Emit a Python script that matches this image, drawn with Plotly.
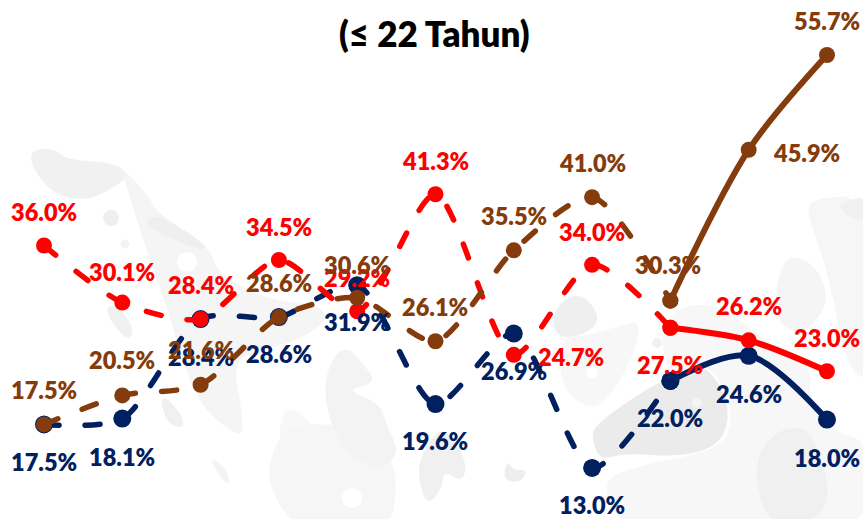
import plotly.graph_objects as go

categories = list(range(11))
red_values = [36.0, 30.1, 28.4, 34.5, 29.2, 41.3, 24.7, 34.0, 27.5, 26.2, 23.0]
brown_values = [17.5, 20.5, 21.6, 28.6, 30.6, 26.1, 35.5, 41.0, 30.3, 45.9, 55.7]
navy_values = [17.5, 18.1, 28.4, 28.6, 31.9, 19.6, 26.9, 13.0, 22.0, 24.6, 18.0]

RED, BROWN, NAVY = "#FF0000", "#843C0C", "#002060"
W, H = 863, 519
FONT = "Lato"
LABEL_SIZE = 23.5
SPLIT = 8

# label offsets (px, right / down) from each marker
red_offsets = [(0, -34), (0, -31), (0, -34), (0, -33), (0, -33), (0, -33), (57, 2), (0, -33), (0, 37), (0, -34), (0, -33)]
brown_offsets = [(0, -34), (0, -35), (0, -35), (0, -34), (0, -33), (0, -34), (0, -34), (0, -34), (-2, -36), (58, 3), (0, -34)]
navy_offsets = [(0, 38), (0, 38), (0, 38), (0, 37), (0, 37), (0, 37), (0, 37), (0, 37), (0, 37), (0, 38), (0, 38)]

# decorative map backdrop, in page pixels: (fill, outline points)
backdrop = [
    ("#f7f7f7", [(673,307),(720,303),(760,337),(793,353),(813,373),(807,393),(833,433),(870,440),(870,530),(770,530),(620,530),(600,480),(640,465),(720,450),(733,420),(725,385),(700,360),(670,375),(660,340)]),
    ("#f7f7f7", [(617,327),(640,320),(637,347),(617,387),(593,413),(560,387),(560,337),(580,337)]),
    ("#f5f5f5", [(777,277),(790,253),(817,267),(827,293),(823,313),(800,337),(775,320)]),
    ("#f6f6f6", [(807,213),(813,198),(870,195),(870,385),(847,367),(830,283),(817,240)]),
    ("#f0f0f0", [(837,203),(870,195),(870,223),(847,217)]),
    ("#f0f0f0", [(753,473),(767,437),(800,423),(820,447),(833,515),(770,530)]),
    ("#efefef", [(552,310),(580,290),(603,320),(580,337),(555,337)]),
    ("#ebebeb", [(592,427),(640,393),(670,377),(700,362),(723,387),(730,420),(717,447),(677,457),(627,453),(600,460),(593,443)]),
    ("#f5f5f5", [(117,163),(147,193),(157,213),(210,247),(217,273),(267,300),(320,305),(328,320),(300,340),(253,352),(233,363),(243,417),(242,440),(200,407),(180,353),(167,307),(143,240),(127,187)]),
    ("#efefef", [(143,223),(157,213),(210,247),(200,250),(167,237)]),
    ("#f1f1f1", [(28,155),(40,148),(57,150),(67,160),(117,163),(128,177),(110,190),(87,200),(60,197),(40,180)]),
    ("#f1f1f1", [(103,310),(117,303),(135,330),(127,342)]),
    ("#f0f0f0", [(160,400),(167,397),(183,417),(183,429),(167,423)]),
    ("#f3f3f3", [(210,457),(227,468),(230,487),(217,473)]),
    ("#f8f8f8", [(280,397),(323,433),(323,487),(280,480)]),
    ("#f6f6f6", [(267,470),(280,433),(313,422),(363,430),(393,460),(397,490),(390,530),(300,530),(275,500)]),
    ("#f3f3f3", [(323,377),(343,343),(363,363),(377,383),(345,390),(380,403),(387,427),(400,453),(380,470),(353,457),(330,427)]),
    ("#f0f0f0", [(420,457),(443,423),(467,460),(463,483),(443,470),(443,487),(427,507),(418,477)]),
    ("#eeeeee", [(507,460),(513,470),(528,470),(520,483),(503,480)]),
]
backdrop_dots = [
    ("#efefef", 111, 218, 8), ("#f3f3f3", 125, 244, 4.5), ("#ffffff", 187, 262, 10),
    ("#ffffff", 352, 498, 10), ("#ffffff", 847, 377, 9), ("#ffffff", 592, 373, 6),
    ("#f4f4f4", 697, 403, 5), ("#f1f1f1", 657, 343, 5),
]


def blob_path(points):
    xy = [(x / W, 1 - y / H) for x, y in points]
    mid = lambda a, b: ((a[0] + b[0]) / 2, (a[1] + b[1]) / 2)
    start = mid(xy[-1], xy[0])
    path = f"M {start[0]:.4f} {start[1]:.4f}"
    for i, p in enumerate(xy):
        m = mid(p, xy[(i + 1) % len(xy)])
        path += f" Q {p[0]:.4f} {p[1]:.4f} {m[0]:.4f} {m[1]:.4f}"
    return path + " Z"


shapes = [dict(type="path", xref="paper", yref="paper", path=blob_path(pts),
               fillcolor=fill, line=dict(width=0), layer="below")
          for fill, pts in backdrop]
shapes += [dict(type="circle", xref="paper", yref="paper",
                x0=(cx - r) / W, x1=(cx + r) / W, y0=1 - (cy + r) / H, y1=1 - (cy - r) / H,
                fillcolor=fill, line=dict(width=0), layer="below")
           for fill, cx, cy, r in backdrop_dots]

fig = go.Figure()
series = [
    (navy_values, NAVY, 18, navy_offsets),
    (red_values, RED, 16, red_offsets),
    (brown_values, BROWN, 16, brown_offsets),
]
annotations = []
for values, color, msize, offsets in series:
    fig.add_trace(go.Scatter(
        x=categories[:SPLIT + 1], y=values[:SPLIT + 1], mode="lines+markers",
        line=dict(color=color, width=5.5, shape="spline", smoothing=0.75, dash="15px,26px"),
        marker=dict(size=msize, color=color), showlegend=False, hoverinfo="skip"))
    fig.add_trace(go.Scatter(
        x=categories[SPLIT:], y=values[SPLIT:], mode="lines+markers",
        line=dict(color=color, width=6, shape="spline", smoothing=0.9),
        marker=dict(size=msize, color=color), showlegend=False, hoverinfo="skip"))
    for c, v, (dx, dy) in zip(categories, values, offsets):
        annotations.append(dict(
            x=c, y=v, xref="x", yref="y", text=f"{v:.1f}%", showarrow=False,
            xshift=dx, yshift=-dy, xanchor="center", yanchor="middle",
            font=dict(family=FONT, size=LABEL_SIZE, color=color, weight=800)))

annotations.append(dict(
    x=434 / W, y=1 - 33 / H, xref="paper", yref="paper", text="(≤ 22 Tahun)",
    showarrow=False, xanchor="center", yanchor="middle",
    font=dict(family=FONT, size=35, color="#000000", weight=800)))

fig.update_layout(
    width=W, height=H, margin=dict(l=0, r=0, t=0, b=0, pad=0),
    paper_bgcolor="white", plot_bgcolor="rgba(0,0,0,0)", showlegend=False,
    xaxis=dict(visible=False, range=[-0.562, 10.46]),
    yaxis=dict(visible=False, range=[7.72, 61.39]),
    annotations=annotations,
    shapes=shapes,
)

post = """
document.body.style.margin = '0';
document.body.style.overflow = 'hidden';
document.querySelectorAll('.js-line').forEach(function (p) { p.style.strokeLinecap = 'round'; });
"""
fig.write_html("out.html", post_script=post, config=dict(displayModeBar=False))
